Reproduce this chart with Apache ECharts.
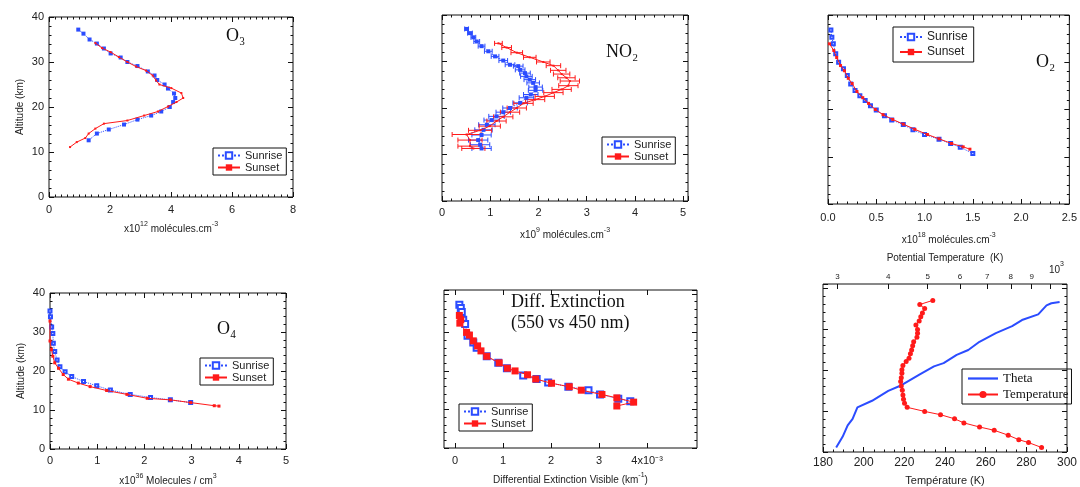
<!DOCTYPE html>
<html>
<head>
<meta charset="utf-8">
<script src="https://cdn.jsdelivr.net/npm/echarts@6/dist/echarts.min.js"></script>
<style>
  html, body { margin: 0; padding: 0; background: #fff; }
  #c { width: 1080px; height: 487px; }
</style>
</head>
<body>
<div id="c"></div>
<script>
// Profiles are [value, altitude km]

// O3, x10^12 molecules/cm3
const o3Sunrise = [[0.96,37.2],[1.13,36.3],[1.33,35.0],[1.57,34.1],[1.8,33.0],[2.02,31.9],[2.35,31.0],[2.57,30.0],[2.9,29.1],[3.24,27.9],[3.46,27.0],[3.55,26.0],[3.79,25.0],[3.9,24.1],[4.1,23.0],[4.14,22.0],[4.07,21.1],[3.96,20.0],[3.68,19.0],[3.35,18.1],[2.9,17.2],[2.46,16.1],[1.96,15.0],[1.57,14.1],[1.3,12.6]];
const o3Sunset = [[1.52,34.2],[1.74,33.1],[2.02,32.2],[2.29,31.1],[2.57,30.0],[2.85,29.0],[3.18,28.1],[3.4,27.0],[3.51,25.9],[3.62,25.0],[4.01,24.2],[4.34,23.1],[4.4,22.0],[4.18,21.1],[3.9,20.1],[3.57,19.0],[3.12,18.1],[2.57,17.0],[1.8,16.3],[1.52,15.2],[1.3,14.1],[1.19,13.1],[0.91,12.2],[0.69,11.1]];

// NO2, x10^9 molecules/cm3, with horizontal error half-widths
const no2Sunrise = [[0.51,37.0],[0.58,36.1],[0.65,35.2],[0.72,34.3],[0.82,33.3],[0.96,32.2],[1.1,31.1],[1.27,30.2],[1.41,29.3],[1.58,29.0],[1.62,28.2],[1.72,27.5],[1.75,26.8],[1.82,26.1],[1.89,25.4],[1.94,24.5],[1.94,23.8],[1.84,22.9],[1.75,22.2],[1.62,21.1],[1.41,20.0],[1.27,19.1],[1.13,18.2],[1.03,17.4],[0.93,16.4],[0.86,15.3],[0.82,14.2],[0.75,13.1],[0.79,12.1],[0.82,11.3]];
const no2SunriseErr = [0.04,0.05,0.05,0.06,0.07,0.08,0.08,0.09,0.1,0.1,0.1,0.11,0.12,0.12,0.13,0.14,0.15,0.15,0.15,0.15,0.15,0.15,0.16,0.16,0.17,0.18,0.2,0.2,0.2,0.2];
const no2Sunset = [[1.17,33.9],[1.34,33.0],[1.55,31.9],[1.82,30.9],[2.1,29.9],[2.31,29.1],[2.41,28.1],[2.48,27.3],[2.58,26.5],[2.65,25.8],[2.62,24.8],[2.48,24.0],[2.31,23.3],[2.13,22.5],[1.93,21.8],[1.69,21.0],[1.55,20.0],[1.41,19.1],[1.27,18.1],[1.13,17.2],[0.99,16.1],[0.79,15.2],[0.51,14.3],[0.58,13.1],[0.58,11.8],[0.65,11.3]];
const no2SunsetErr = [0.08,0.1,0.12,0.13,0.14,0.15,0.16,0.17,0.18,0.2,0.2,0.2,0.2,0.2,0.2,0.2,0.2,0.2,0.2,0.2,0.22,0.24,0.3,0.25,0.25,0.24];

// O2, x10^18 molecules/cm3
const o2Sunrise = [[0.03,36.8],[0.04,35.3],[0.055,33.9],[0.08,31.8],[0.11,30.0],[0.16,28.6],[0.2,27.2],[0.235,25.4],[0.28,24.0],[0.33,22.9],[0.385,21.9],[0.44,20.8],[0.5,19.9],[0.585,18.7],[0.66,17.8],[0.78,16.8],[0.88,15.7],[1.0,14.7],[1.15,13.7],[1.27,12.8],[1.37,12.0],[1.5,10.7]];
const o2Sunset = [[0.015,33.9],[0.06,32.5],[0.09,31.0],[0.13,29.3],[0.17,28.2],[0.21,26.6],[0.25,25.5],[0.3,23.8],[0.36,22.5],[0.42,21.3],[0.49,20.0],[0.57,18.9],[0.67,17.9],[0.78,16.9],[0.9,15.8],[1.03,14.7],[1.15,13.8],[1.28,12.8],[1.4,12.1],[1.47,11.6]];

// O4, x10^36 molecules/cm3
const o4Sunrise = [[0.0,35.4],[0.01,33.9],[0.035,31.3],[0.06,29.6],[0.07,27.1],[0.1,25.0],[0.15,22.8],[0.21,21.1],[0.32,19.8],[0.46,18.6],[0.71,17.3],[0.99,16.2],[1.28,15.1],[1.7,14.0],[2.13,13.2],[2.55,12.6],[2.98,11.9]];
const o4Sunset = [[0.0,32.8],[0.0,27.7],[0.03,25.5],[0.06,23.8],[0.1,22.1],[0.18,20.7],[0.28,19.1],[0.39,17.9],[0.6,16.9],[0.85,16.0],[1.2,15.0],[1.63,14.0],[2.06,13.0],[2.55,12.6],[2.98,11.9],[3.48,11.1],[3.58,11.0]];

// differential extinction 550 vs 450 nm, x10^-3 km^-1
const extSunrise = [[0.09,37.2],[0.12,36.3],[0.14,35.3],[0.17,33.3],[0.21,32.2],[0.26,29.1],[0.38,27.4],[0.45,26.0],[0.66,23.8],[0.9,22.1],[1.08,20.7],[1.42,18.8],[1.7,17.9],[1.94,17.0],[2.36,15.9],[2.78,15.0],[3.02,13.9],[3.4,12.8],[3.65,12.1]];
const extSunset = [[0.09,34.4],[0.12,33.3],[0.1,32.4],[0.24,30.0],[0.3,29.3],[0.38,27.8],[0.47,26.5],[0.54,25.2],[0.66,23.8],[0.92,22.1],[1.09,20.7],[1.25,20.0],[1.51,19.0],[1.68,17.9],[2.01,16.8],[2.38,15.9],[2.63,15.0],[3.06,13.9],[3.37,13.0],[3.72,11.9],[3.37,10.9]];
const extTicks = [0, 1, 2, 3, 4];

// potential temperature (K, top log axis) and temperature (K)
const thetaProfile = [[298,1.1],[309,3.7],[318,6.5],[327,8.1],[336,10.9],[365,12.5],[400,14.9],[431,16.3],[477,18.9],[518,20.9],[547,21.7],[589,23.7],[629,24.9],[670,26.9],[735,29.0],[806,30.7],[852,32.2],[934,33.6],[979,35.8],[1006,36.3],[1054,36.6]];
const tempProfile = [[287.5,1.1],[281.1,2.3],[276.3,3.0],[271.1,4.1],[264.2,5.3],[257.0,6.1],[249.3,7.1],[244.7,8.1],[237.8,9.1],[230.0,9.9],[221.4,10.9],[220.1,11.9],[219.6,12.9],[219.3,13.9],[219.0,15.1],[218.5,16.1],[218.2,17.2],[218.5,18.1],[218.8,19.2],[218.8,20.1],[219.3,21.1],[220.9,22.1],[222.3,22.9],[223.0,24.0],[223.6,24.9],[224.1,25.9],[224.6,26.9],[226.2,28.0],[226.5,29.0],[226.5,29.9],[225.7,31.0],[227.3,32.0],[228.1,33.0],[228.9,33.9],[230.0,35.0],[227.6,36.0],[234.0,37.0]];
const thetaTicks = [300, 400, 500, 600, 700, 800, 900, 1000];

const FONT = 'Liberation Sans';
const SERIF = 'Liberation Serif';
const INK = '#111';
const BLUE = '#2b4cff';
const RED = '#ff1a1a';

// rich text for superscripts in axis titles
const SUP_RICH = {
  n: { fontFamily: FONT, fontSize: 10, color: '#222', lineHeight: 13, verticalAlign: 'bottom' },
  s: { fontFamily: FONT, fontSize: 7, color: '#222', lineHeight: 13, verticalAlign: 'top' },
};

const grids = [], xAxes = [], yAxes = [], series = [], legends = [], titles = [];

function valueAxis(gi, a, position, withLabels) {
  return {
    gridIndex: gi, type: 'value', position,
    min: a.min, max: a.max, interval: a.interval,
    axisLine: { show: false, onZero: false },
    axisTick: { show: true, inside: true, length: 5, lineStyle: { color: INK }, customValues: a.ticks },
    minorTick: { show: !!a.minor, splitNumber: a.minor || 5, length: 2.5, lineStyle: { color: INK } },
    splitLine: { show: false },
    axisLabel: {
      show: withLabels, customValues: a.ticks, formatter: a.fmt,
      color: '#222', fontFamily: FONT, fontSize: a.fontSize || 11, margin: a.margin || 5,
    },
    name: withLabels ? a.name || '' : '',
    nameLocation: 'middle', nameGap: a.nameGap || 20,
    nameTextStyle: { color: '#222', fontFamily: FONT, fontSize: a.nameSize || 10, rich: SUP_RICH },
  };
}

function addPanel(p) {
  const gi = grids.length;
  grids.push({ left: p.left, top: p.top, width: p.width, height: p.height, show: true, borderColor: INK, borderWidth: 1 });
  const xi = xAxes.length;
  xAxes.push(valueAxis(gi, p.x, 'bottom', true));
  if (!p.customTop) xAxes.push(valueAxis(gi, p.x, 'top', false));
  const yi = yAxes.length;
  yAxes.push(valueAxis(gi, p.y, 'left', !!p.y.labels));
  yAxes.push(valueAxis(gi, p.y, 'right', false));
  return { gi, xi, yi };
}

function sunrise(ax, data, size) {
  return {
    name: 'Sunrise', type: 'line', xAxisIndex: ax.xi, yAxisIndex: ax.yi, data,
    symbol: 'emptyRect', symbolSize: size, showSymbol: true,
    lineStyle: { color: BLUE, width: 1, type: 'dotted' },
    itemStyle: { color: BLUE, borderWidth: 1 }, z: 3,
  };
}
function sunset(ax, data, size) {
  return {
    name: 'Sunset', type: 'line', xAxisIndex: ax.xi, yAxisIndex: ax.yi, data,
    symbol: 'rect', symbolSize: size, showSymbol: true,
    lineStyle: { color: RED, width: 1 },
    itemStyle: { color: RED }, z: 4,
  };
}
function errBars(ax, pts, errs, color) {
  return {
    type: 'custom', xAxisIndex: ax.xi, yAxisIndex: ax.yi, silent: true, z: 2,
    data: pts.map((p, i) => [p[0], p[1], errs[i]]),
    renderItem: (params, api) => {
      const x = api.value(0), y = api.value(1), e = api.value(2);
      const a = api.coord([x - e, y]), b = api.coord([x + e, y]);
      const st = { stroke: color, lineWidth: 1 };
      return { type: 'group', children: [
        { type: 'line', shape: { x1: a[0], y1: a[1], x2: b[0], y2: b[1] }, style: st },
        { type: 'line', shape: { x1: a[0], y1: a[1] - 2.5, x2: a[0], y2: a[1] + 2.5 }, style: st },
        { type: 'line', shape: { x1: b[0], y1: b[1] - 2.5, x2: b[0], y2: b[1] + 2.5 }, style: st },
      ] };
    },
  };
}
function addLegend(left, top, extra) {
  legends.push(Object.assign({
    left, top, orient: 'vertical', selectedMode: false,
    data: ['Sunrise', 'Sunset'],
    borderColor: INK, borderWidth: 1, borderRadius: 0, padding: [2, 4, 2, 4],
    itemWidth: 22, itemHeight: 8, itemGap: 1,
    textStyle: { fontFamily: FONT, fontSize: 11, color: '#222' },
  }, extra || {}));
}
function addLabel(text, left, top, size) {
  titles.push({ text, left, top, padding: 0,
    textStyle: { fontFamily: SERIF, fontSize: size || 18, fontWeight: 'normal', color: INK, lineHeight: 21 } });
}

const alt = { min: 0, max: 40, interval: 10, minor: 5 };
const altLabeled = Object.assign({}, alt, { labels: true, name: 'Altitude (km)', nameGap: 24 });

// O3
const p1 = addPanel({ left: 49, top: 17, width: 244, height: 180,
  x: { min: 0, max: 8, interval: 2, minor: 10, margin: 7, name: '{n|x10}{s|12}{n| molécules.cm}{s|-3}', nameGap: 24 }, y: altLabeled });
series.push(sunrise(p1, o3Sunrise, 2), sunset(p1, o3Sunset, 2));
addLegend(213, 148);
addLabel('O₃', 226, 26);

// NO2
const p2 = addPanel({ left: 442, top: 15, width: 246, height: 186,
  x: { min: 0, max: 5.1, interval: 1, minor: 5, margin: 6, name: '{n|x10}{s|9}{n| molécules.cm}{s|-3}', nameGap: 26 }, y: alt });
series.push(errBars(p2, no2Sunrise, no2SunriseErr, BLUE), errBars(p2, no2Sunset, no2SunsetErr, RED));
series.push(sunrise(p2, no2Sunrise, 2), sunset(p2, no2Sunset, 2));
addLegend(602, 137);
addLabel('NO₂', 606, 42);

// O2
const p3 = addPanel({ left: 828, top: 15, width: 247, height: 189,
  x: { min: 0, max: 2.5, interval: 0.5, minor: 5, fmt: v => v.toFixed(1), margin: 8,
       name: '{n|x10}{s|18}{n| molécules.cm}{s|-3}', nameGap: 28 }, y: alt });
series.push(sunrise(p3, o2Sunrise, 3), sunset(p3, o2Sunset, 3));
addLegend(893, 27, { textStyle: { fontFamily: FONT, fontSize: 12, color: '#222' }, itemGap: 3, padding: [4, 6, 4, 6] });
addLabel('O₂', 1036, 52);

// O4
const p4 = addPanel({ left: 50, top: 293, width: 236, height: 156,
  x: { min: 0, max: 5, interval: 1, minor: 5, margin: 6, name: '{n|x10}{s|36}{n| Molecules / cm}{s|3}', nameGap: 24 }, y: altLabeled });
series.push(sunrise(p4, o4Sunrise, 3), sunset(p4, o4Sunset, 3));
addLegend(200, 358);
addLabel('O₄', 217, 319);

// differential extinction
const p5 = addPanel({ left: 444, top: 290, width: 253, height: 158,
  x: { min: -0.23, max: 5.04, ticks: extTicks, margin: 7, fmt: v => (v === 4 ? '4x10⁻³' : String(v)),
       name: '{n|Differential Extinction Visible (km}{s|-1}{n|)}', nameGap: 24 },
  y: { min: 0, max: 41, interval: 10, minor: 5 } });
series.push(sunrise(p5, extSunrise, 6), sunset(p5, extSunset, 7));
addLegend(459, 404);
addLabel('Diff. Extinction\n(550 vs 450 nm)', 511, 292);

// temperature / potential temperature
const p6 = addPanel({ left: 823, top: 284, width: 250, height: 170, customTop: true,
  x: { min: 180, max: 300, interval: 20, minor: 4, fontSize: 12, name: 'Température (K)', nameSize: 11, nameGap: 23 },
  y: { min: 0, max: 41, interval: 10, minor: 5 } });
const thetaAxis = xAxes.length;
xAxes.push({
  gridIndex: p6.gi, type: 'value', position: 'top',
  min: Math.log10(276.6), max: Math.log10(1099),
  axisLine: { show: false, onZero: false },
  axisTick: { show: true, inside: true, length: 5, lineStyle: { color: INK }, customValues: thetaTicks.map(Math.log10) },
  splitLine: { show: false },
  axisLabel: {
    customValues: thetaTicks.map(Math.log10), margin: 3,
    formatter: v => { const k = Math.round(Math.pow(10, v)); return k >= 1000 ? '' : String(k / 100); },
    color: '#222', fontFamily: FONT, fontSize: 8,
  },
  name: 'Potential Temperature  (K)', nameLocation: 'middle', nameGap: 21,
  nameTextStyle: { color: '#222', fontFamily: FONT, fontSize: 10 },
});
titles.push({ text: '{n|10}{s|3}', left: 1049, top: 261, padding: 0,
  textStyle: { rich: {
    n: { fontFamily: FONT, fontSize: 10, fontWeight: 'normal', color: '#222', lineHeight: 14, verticalAlign: 'bottom' },
    s: { fontFamily: FONT, fontSize: 7, fontWeight: 'normal', color: '#222', lineHeight: 14, verticalAlign: 'top' },
  } } });
series.push({
  name: 'Theta', type: 'line', xAxisIndex: thetaAxis, yAxisIndex: p6.yi,
  data: thetaProfile.map(d => [Math.log10(d[0]), d[1]]),
  symbol: 'none', lineStyle: { color: BLUE, width: 2 }, itemStyle: { color: BLUE }, z: 3,
});
series.push({
  name: 'Temperature', type: 'line', xAxisIndex: p6.xi, yAxisIndex: p6.yi, data: tempProfile,
  symbol: 'circle', symbolSize: 5, lineStyle: { color: RED, width: 1 }, itemStyle: { color: RED }, z: 4,
});
addLegend(962, 369, {
  data: [{ name: 'Theta', icon: 'path://M0,0H40V3H0Z' }, { name: 'Temperature' }],
  itemWidth: 30, itemHeight: 9, itemGap: 3, padding: [3, 3, 3, 5],
  textStyle: { fontFamily: SERIF, fontSize: 13, color: '#111' },
});

const chart = echarts.init(document.getElementById('c'));
chart.setOption({
  animation: false,
  backgroundColor: '#fff',
  title: titles,
  grid: grids,
  xAxis: xAxes,
  yAxis: yAxes,
  legend: legends,
  series,
});
</script>
</body>
</html>
